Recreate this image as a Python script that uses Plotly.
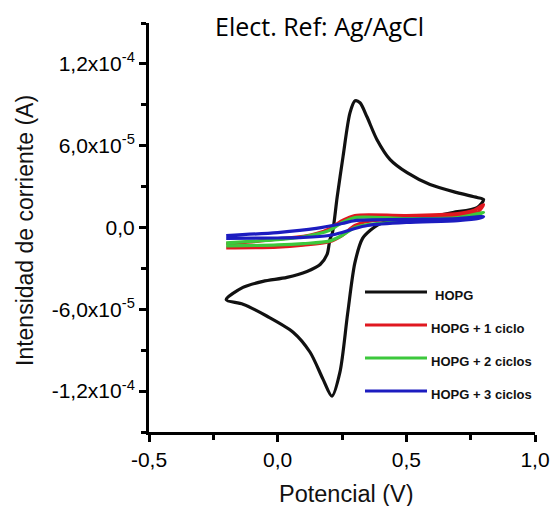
import plotly.graph_objects as go

# ---- data (Potencial V, Intensidad A) ----
hopg_x = [-0.2, -0.135, -0.057, 0.036, 0.114, 0.165, 0.192, 0.203, 0.213, 0.231, 0.254, 0.281, 0.301,
          0.320, 0.347, 0.386, 0.437, 0.503, 0.592, 0.697, 0.775, 0.8,
          0.775, 0.681, 0.592, 0.526, 0.40, 0.36, 0.330, 0.300, 0.272, 0.242, 0.211, 0.176,
          0.126, 0.060, -0.041, -0.135, -0.2]
hopg_y = [-5.3e-5, -4.39e-5, -3.95e-5, -3.66e-5, -3.22e-5, -2.71e-5, -1.98e-5, -0.88e-5, -0.37e-5, 2.2e-5,
          5.2e-5, 8.41e-5, 9.29e-5, 9.15e-5, 8.12e-5, 6.44e-5, 4.98e-5, 4.02e-5, 3.15e-5, 2.56e-5,
          2.2e-5, 2.05e-5, 1.46e-5, 1.1e-5, 0.8e-5, 0.73e-5, 0.3e-5, -0.2e-5, -0.8e-5, -2.6e-5,
          -6.3e-5, -10.61e-5, -12.37e-5, -11.12e-5, -9.15e-5, -7.68e-5, -6.51e-5, -5.63e-5, -5.3e-5]

c1_x = [-0.2, -0.1, 0.0, 0.1, 0.15, 0.2, 0.25, 0.3, 0.5, 0.7, 0.76, 0.8,
        0.78, 0.7, 0.5, 0.35, 0.3, 0.25, 0.2, 0.1, 0.0, -0.2]
c1_y = [-1.2e-5, -1.05e-5, -0.85e-5, -0.65e-5, -0.45e-5, -0.1e-5, 0.5e-5, 0.88e-5, 0.88e-5, 1.02e-5, 1.24e-5, 1.68e-5,
        1.17e-5, 0.8e-5, 0.66e-5, 0.44e-5, 0.15e-5, -0.59e-5, -1.05e-5, -1.3e-5, -1.45e-5, -1.5e-5]

c2_x = [-0.2, 0.0, 0.1, 0.2, 0.25, 0.3, 0.5, 0.7, 0.8,
        0.78, 0.7, 0.5, 0.35, 0.3, 0.25, 0.2, 0.1, 0.0, -0.2]
c2_y = [-1.12e-5, -0.9e-5, -0.68e-5, -0.22e-5, 0.37e-5, 0.73e-5, 0.66e-5, 0.73e-5, 1.1e-5,
        0.95e-5, 0.59e-5, 0.44e-5, 0.22e-5, 0.0, -0.59e-5, -1.0e-5, -1.18e-5, -1.28e-5, -1.35e-5]

c3_x = [-0.2, 0.0, 0.15, 0.25, 0.3, 0.5, 0.7, 0.8,
        0.78, 0.7, 0.5, 0.35, 0.3, 0.25, 0.2, 0.1, 0.0, -0.2]
c3_y = [-0.59e-5, -0.37e-5, -0.07e-5, 0.29e-5, 0.51e-5, 0.59e-5, 0.66e-5, 0.8e-5,
        0.66e-5, 0.51e-5, 0.37e-5, 0.15e-5, -0.07e-5, -0.37e-5, -0.59e-5, -0.73e-5, -0.77e-5, -0.8e-5]

series_names = ["HOPG", "HOPG + 1 ciclo", "HOPG + 2 ciclos", "HOPG + 3 ciclos"]
series_colors = ["#111111", "#e01820", "#3cc83c", "#1c1cc0"]

x_tickvals = [-0.5, 0.0, 0.5, 1.0]
x_ticktext = ["-0,5", "0,0", "0,5", "1,0"]
y_tickvals = [-1.2e-4, -6e-5, 0.0, 6e-5, 1.2e-4]
y_ticktext = ["-1,2x10<sup>-4</sup>", "-6,0x10<sup>-5</sup>", "0,0",
              "6,0x10<sup>-5</sup>", "1,2x10<sup>-4</sup>"]

fig = go.Figure()
for xs, ys, name, col in zip([hopg_x, c1_x, c2_x, c3_x], [hopg_y, c1_y, c2_y, c3_y],
                             series_names, series_colors):
    fig.add_trace(go.Scatter(x=xs, y=ys, mode="lines", name=name,
                             line=dict(color=col, width=3.2, shape="spline", smoothing=0.8),
                             showlegend=False))

W, H = 555, 506
L, R, T, B = 149, 20, 23, 74
pw, ph = W - L - R, H - T - B

def px2paper(px, py):
    return (px - L) / pw, (H - B - py) / ph

FONT = "Liberation Sans, Arial, sans-serif"

# manual legend
leg_rows = [292, 325, 358, 391]
leg_text_x = [433, 429, 429, 429]
shapes = []
annotations = []
for name, col, py, tx in zip(series_names, series_colors, leg_rows, leg_text_x):
    x0, y0 = px2paper(365, py)
    x1, _ = px2paper(427, py)
    shapes.append(dict(type="line", xref="paper", yref="paper", x0=x0, x1=x1, y0=y0, y1=y0,
                       line=dict(color=col, width=3)))
    ax, ay = px2paper(tx, py + 3)
    annotations.append(dict(text="<b>" + name + "</b>", xref="paper", yref="paper", x=ax, y=ay,
                            xanchor="left", yanchor="middle", showarrow=False,
                            font=dict(family=FONT, size=13, color="#111")))

# title
tx, ty = px2paper(319, 26)
annotations.append(dict(text="Elect. Ref: Ag/AgCl", xref="paper", yref="paper",
                        x=tx, y=ty, xanchor="center", yanchor="middle",
                        showarrow=False, font=dict(family="Open Sans", size=25, color="#000")))
# axis titles
yx, yy = px2paper(25, 231)
annotations.append(dict(text="Intensidad de corriente (A)", xref="paper", yref="paper",
                        x=yx, y=yy, xanchor="center", yanchor="middle", textangle=-90,
                        showarrow=False, font=dict(family=FONT, size=23, color="#111")))
xx, xy = px2paper(346, 494)
annotations.append(dict(text="Potencial (V)", xref="paper", yref="paper",
                        x=xx, y=xy, xanchor="center", yanchor="middle",
                        showarrow=False, font=dict(family=FONT, size=23.5, color="#111")))

axis_common = dict(showline=True, linecolor="#000", linewidth=3, ticks="outside", tickwidth=2.5,
                   tickcolor="#000", showgrid=False, zeroline=False, automargin=False,
                   tickfont=dict(family=FONT, size=21, color="#000"),
                   mirror=False)

fig.update_layout(
    width=W, height=H, template="none",
    paper_bgcolor="white", plot_bgcolor="white",
    margin=dict(l=L, r=R, t=T, b=B, pad=0),
    xaxis=dict(range=[-0.5, 1.0], tickvals=x_tickvals, ticktext=x_ticktext, ticklen=7,
               minor=dict(tickvals=[-0.25, 0.25, 0.75], ticklen=5, tickwidth=2.5, tickcolor="#000", ticks="outside"),
               **axis_common),
    yaxis=dict(range=[-1.5e-4, 1.5e-4], tickvals=y_tickvals, ticktext=y_ticktext, ticklen=7,
               minor=dict(tickvals=[-1.5e-4, -9e-5, -3e-5, 3e-5, 9e-5, 1.5e-4], ticklen=5, tickwidth=2.5,
                          tickcolor="#000", ticks="outside"),
               **axis_common),
    shapes=shapes, annotations=annotations,
)

fig.write_html("out.html")
